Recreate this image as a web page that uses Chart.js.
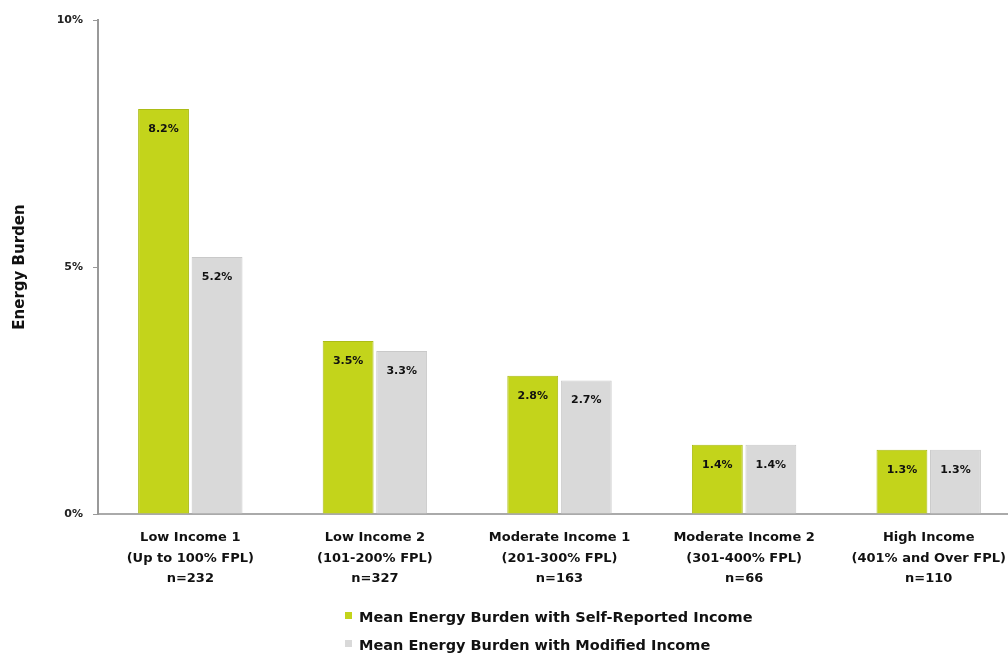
<!DOCTYPE html>
<html>
<head>
<meta charset="utf-8">
<script src="https://cdn.jsdelivr.net/npm/chart.js@4.4.1/dist/chart.umd.min.js"></script>
<style>
  html, body { margin: 0; padding: 0; background: #fff; overflow: hidden; }
  #wrap { position: relative; width: 1024px; height: 656px; }
  #legend { position: absolute; left: 345px; top: 605px; font: bold 14.5px "DejaVu Sans", sans-serif; color: #111; }
  #legend div { height: 28px; line-height: 24px; white-space: nowrap; }
  #legend span { display: inline-block; width: 7px; height: 7px; margin-right: 7px; vertical-align: 3px; }
</style>
</head>
<body>
<div id="wrap">
  <canvas id="chart" width="1024" height="656"></canvas>
  <div id="legend"></div>
</div>
<script>
// Energy burden by income group, two income measures

const categories = [
  ["Low Income 1", "(Up to 100% FPL)", "n=232"],
  ["Low Income 2", "(101-200% FPL)", "n=327"],
  ["Moderate Income 1", "(201-300% FPL)", "n=163"],
  ["Moderate Income 2", "(301-400% FPL)", "n=66"],
  ["High Income", "(401% and Over FPL)", "n=110"]
];
const selfReported = [8.2, 3.5, 2.8, 1.4, 1.3];
const modified = [5.2, 3.3, 2.7, 1.4, 1.3];
const seriesNames = [
  "Mean Energy Burden with Self-Reported Income",
  "Mean Energy Burden with Modified Income"
];
const yTicks = [0, 5, 10];

const FONT = "'DejaVu Sans', sans-serif";

// writes the value near the top of each bar
const valueLabels = {
  id: "valueLabels",
  afterDatasetsDraw(chart) {
    const ctx = chart.ctx;
    ctx.save();
    ctx.font = "bold 11px " + FONT;
    ctx.fillStyle = "#111";
    ctx.textAlign = "center";
    ctx.textBaseline = "middle";
    chart.data.datasets.forEach((ds, i) => {
      chart.getDatasetMeta(i).data.forEach((bar, j) => {
        ctx.fillText(ds.data[j].toFixed(1) + "%", bar.x, bar.y + 20);
      });
    });
    ctx.restore();
  }
};

const chart = new Chart(document.getElementById("chart"), {
  type: "bar",
  data: {
    labels: categories,
    datasets: [
      { label: seriesNames[0], data: selfReported, backgroundColor: "#c3d41b", borderColor: "#acbc16", borderWidth: 1 },
      { label: seriesNames[1], data: modified, backgroundColor: "#d9d9d9", borderColor: "#c9c9c9", borderWidth: 1 }
    ]
  },
  options: {
    responsive: false,
    animation: false,
    layout: { padding: { top: 20, right: 3, left: 0, bottom: 0 } },
    datasets: { bar: { categoryPercentage: 0.58, barPercentage: 0.95 } },
    plugins: { legend: { display: false }, tooltip: { enabled: false } },
    scales: {
      x: {
        grid: { display: false },
        border: { color: "#aaa", width: 2 },
        ticks: { color: "#111", font: { family: FONT, size: 13, weight: "bold", lineHeight: 1.55 }, padding: 6, maxRotation: 0 },
        afterFit(s) { s.height = 142; }
      },
      y: {
        min: 0,
        max: 10,
        afterBuildTicks(s) { s.ticks = yTicks.map(v => ({ value: v })); },
        grid: { drawOnChartArea: false, drawTicks: true, tickLength: 5, color: "#999" },
        border: { color: "#999", width: 2 },
        ticks: { color: "#222", font: { family: FONT, size: 11, weight: "bold" }, padding: 10, callback: v => v + "%" },
        title: { display: true, text: "Energy Burden", color: "#111", font: { family: FONT, size: 15, weight: "bold" }, padding: { top: 11, bottom: 10 } },
        afterFit(s) { s.width = 98; }
      }
    }
  },
  plugins: [valueLabels]
});

// vertical legend under the axis
const legend = document.getElementById("legend");
chart.data.datasets.forEach(ds => {
  const row = document.createElement("div");
  row.innerHTML = '<span style="background:' + ds.backgroundColor + '"></span>' + ds.label;
  legend.appendChild(row);
});
</script>
</body>
</html>
